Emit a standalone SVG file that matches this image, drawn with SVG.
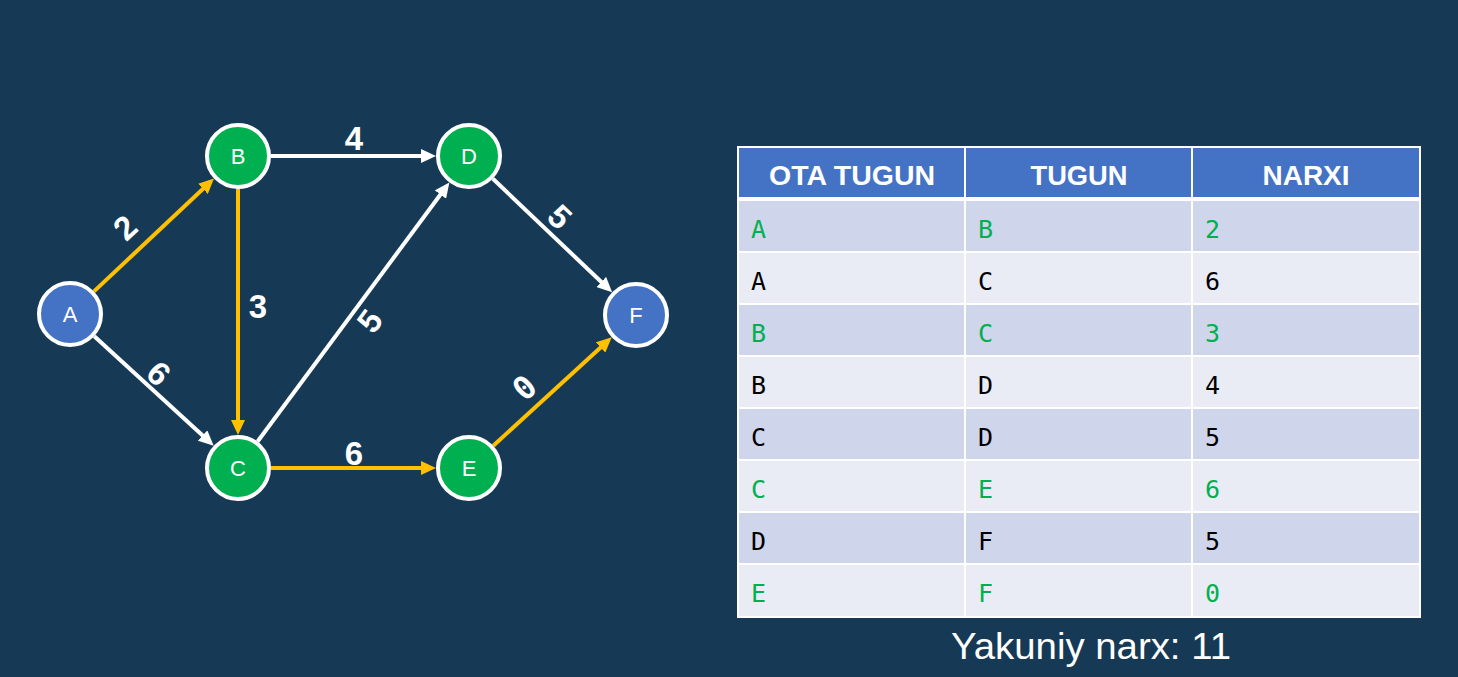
<svg xmlns="http://www.w3.org/2000/svg" width="1458" height="677" viewBox="0 0 1458 677">
<defs>
<style>
.node circle{stroke:#ffffff;stroke-width:4}
.g{fill:#00b050}
.b{fill:#4472c4}
.nl{font-family:"Liberation Sans",Arial,sans-serif;font-size:22px;fill:#ffffff;text-anchor:middle}
.e{fill:none;stroke-width:4}
.y{stroke:#ffc000}
.w{stroke:#ffffff}
.el{font-family:"Liberation Sans",Arial,sans-serif;font-size:33px;font-weight:bold;fill:#ffffff;text-anchor:middle}
.hd{font-family:"Liberation Sans",Arial,sans-serif;font-size:28px;font-weight:bold;fill:#ffffff;text-anchor:middle}
.td{font-family:"DejaVu Sans Mono","Liberation Mono",monospace;font-size:25px}
.gr{fill:#00b050}
.bk{fill:#000000}
.r1{fill:#cfd5ea}
.r2{fill:#e9ebf5}
</style>
<marker id="ay" markerUnits="userSpaceOnUse" markerWidth="16" markerHeight="14" refX="10" refY="7" orient="auto"><path d="M0,0 L15,7 L0,14 z" fill="#ffc000"/></marker>
<marker id="aw" markerUnits="userSpaceOnUse" markerWidth="16" markerHeight="14" refX="10" refY="7" orient="auto"><path d="M0,0 L15,7 L0,14 z" fill="#ffffff"/></marker>
</defs>
<rect x="0" y="0" width="1458" height="677" fill="#163a56"/>

<g id="connectors">
<line class="e y" x1="94" y1="291.4" x2="210.3" y2="182" marker-end="url(#ay)"/>
<line class="e w" x1="94.3" y1="336.3" x2="210" y2="442.3" marker-end="url(#aw)"/>
<line class="e y" x1="238" y1="189" x2="238" y2="430" marker-end="url(#ay)"/>
<line class="e w" x1="271" y1="156" x2="431" y2="156" marker-end="url(#aw)"/>
<line class="e w" x1="257.6" y1="441.5" x2="446.4" y2="186.5" marker-end="url(#aw)"/>
<line class="e y" x1="271" y1="468" x2="431" y2="468" marker-end="url(#ay)"/>
<line class="e w" x1="492.9" y1="178.8" x2="608.5" y2="288.8" marker-end="url(#aw)"/>
<line class="e y" x1="493.3" y1="445.7" x2="608" y2="340.7" marker-end="url(#ay)"/>
<text class="el" transform="translate(133,236) rotate(-43)">2</text>
<text class="el" transform="translate(151,382) rotate(42.5)">6</text>
<text class="el" x="258" y="318">3</text>
<text class="el" x="354" y="150">4</text>
<text class="el" transform="translate(379,328) rotate(-53.5)">5</text>
<text class="el" x="354" y="465">6</text>
<text class="el" transform="translate(552,225) rotate(43.6)">5</text>
<text class="el" style="font-family:'DejaVu Sans Mono',monospace;font-size:32px" transform="translate(532,396) rotate(-42.5)">0</text>
</g>

<g id="node-A" class="node"><circle class="b" cx="70" cy="314" r="31"/><text class="nl" x="70" y="322">A</text></g>
<g id="node-B" class="node"><circle class="g" cx="238" cy="156" r="31"/><text class="nl" x="238" y="164">B</text></g>
<g id="node-C" class="node"><circle class="g" cx="238" cy="468" r="31"/><text class="nl" x="238" y="476">C</text></g>
<g id="node-D" class="node"><circle class="g" cx="469" cy="156" r="31"/><text class="nl" x="469" y="164">D</text></g>
<g id="node-E" class="node"><circle class="g" cx="469" cy="468" r="31"/><text class="nl" x="469" y="476">E</text></g>
<g id="node-F" class="node"><circle class="b" cx="636" cy="315" r="31"/><text class="nl" x="636" y="323">F</text></g>

<g id="table">
<rect x="737" y="146" width="684" height="472" fill="#ffffff"/>
<rect x="739" y="148" width="225" height="49" fill="#4472c4"/>
<rect x="966" y="148" width="225" height="49" fill="#4472c4"/>
<rect x="1193" y="148" width="226" height="49" fill="#4472c4"/>
<text class="hd" x="852" y="185" textLength="166" lengthAdjust="spacingAndGlyphs">OTA TUGUN</text>
<text class="hd" x="1079" y="185" textLength="97" lengthAdjust="spacingAndGlyphs">TUGUN</text>
<text class="hd" x="1306" y="185" textLength="87" lengthAdjust="spacingAndGlyphs">NARXI</text>

<g class="r1"><rect x="739" y="201" width="225" height="50"/><rect x="966" y="201" width="225" height="50"/><rect x="1193" y="201" width="226" height="50"/></g>
<g class="r2"><rect x="739" y="253" width="225" height="50"/><rect x="966" y="253" width="225" height="50"/><rect x="1193" y="253" width="226" height="50"/></g>
<g class="r1"><rect x="739" y="305" width="225" height="50"/><rect x="966" y="305" width="225" height="50"/><rect x="1193" y="305" width="226" height="50"/></g>
<g class="r2"><rect x="739" y="357" width="225" height="50"/><rect x="966" y="357" width="225" height="50"/><rect x="1193" y="357" width="226" height="50"/></g>
<g class="r1"><rect x="739" y="409" width="225" height="50"/><rect x="966" y="409" width="225" height="50"/><rect x="1193" y="409" width="226" height="50"/></g>
<g class="r2"><rect x="739" y="461" width="225" height="50"/><rect x="966" y="461" width="225" height="50"/><rect x="1193" y="461" width="226" height="50"/></g>
<g class="r1"><rect x="739" y="513" width="225" height="50"/><rect x="966" y="513" width="225" height="50"/><rect x="1193" y="513" width="226" height="50"/></g>
<g class="r2"><rect x="739" y="565" width="225" height="51"/><rect x="966" y="565" width="225" height="51"/><rect x="1193" y="565" width="226" height="51"/></g>

<g class="td gr"><text x="751" y="238">A</text><text x="978" y="238">B</text><text x="1205" y="238">2</text></g>
<g class="td bk"><text x="751" y="290">A</text><text x="978" y="290">C</text><text x="1205" y="290">6</text></g>
<g class="td gr"><text x="751" y="342">B</text><text x="978" y="342">C</text><text x="1205" y="342">3</text></g>
<g class="td bk"><text x="751" y="394">B</text><text x="978" y="394">D</text><text x="1205" y="394">4</text></g>
<g class="td bk"><text x="751" y="446">C</text><text x="978" y="446">D</text><text x="1205" y="446">5</text></g>
<g class="td gr"><text x="751" y="498">C</text><text x="978" y="498">E</text><text x="1205" y="498">6</text></g>
<g class="td bk"><text x="751" y="550">D</text><text x="978" y="550">F</text><text x="1205" y="550">5</text></g>
<g class="td gr"><text x="751" y="602">E</text><text x="978" y="602">F</text><text x="1205" y="602">0</text></g>
</g>

<text x="1091" y="659" font-family="Liberation Sans, Arial, sans-serif" font-size="36" fill="#ffffff" text-anchor="middle" textLength="280" lengthAdjust="spacingAndGlyphs">Yakuniy narx: 11</text>
</svg>
